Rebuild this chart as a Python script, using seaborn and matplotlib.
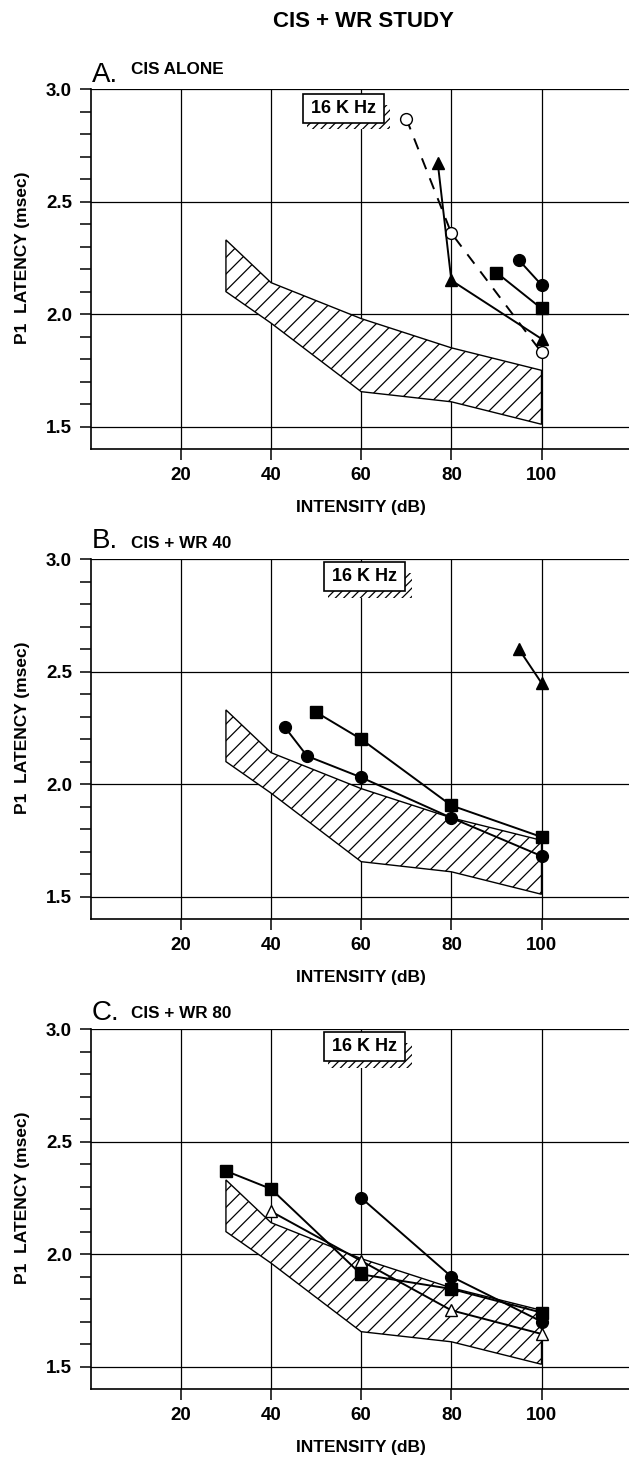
import numpy as np
import pandas as pd
import matplotlib
matplotlib.use("Agg")
import matplotlib.pyplot as plt
import seaborn as sns
from matplotlib.patches import Rectangle, Polygon

sns.set_theme(style="ticks")
plt.rcParams['font.family'] = ['Liberation Sans', 'DejaVu Sans']
plt.rcParams['font.weight'] = 'bold'
plt.rcParams['text.color'] = 'black'
plt.rcParams['hatch.linewidth'] = 0.9
plt.rcParams['hatch.color'] = 'black'

# ---------------- data ----------------
# normal-range band (shared by all panels)
band_upper_x = [30, 40, 60, 80, 100]
band_upper_y = [2.33, 2.14, 1.98, 1.85, 1.75]
band_lower_x = [30, 40, 60, 80, 100]
band_lower_y = [2.10, 1.96, 1.655, 1.61, 1.51]

# Panel A: CIS alone
a_open_circle_x = [70, 80, 100]
a_open_circle_y = [2.87, 2.36, 1.83]
a_triangle_x = [77, 80, 100]
a_triangle_y = [2.67, 2.15, 1.89]
a_square_x = [90, 100]
a_square_y = [2.185, 2.025]
a_circle_x = [95, 100]
a_circle_y = [2.24, 2.13]

# Panel B: CIS + WR 40
b_triangle_x = [95, 100]
b_triangle_y = [2.60, 2.45]
b_square_x = [50, 60, 80, 100]
b_square_y = [2.32, 2.20, 1.905, 1.765]
b_circle_x = [43, 48, 60, 80, 100]
b_circle_y = [2.255, 2.125, 2.03, 1.85, 1.68]

# Panel C: CIS + WR 80
c_square_x = [30, 40, 60, 80, 100]
c_square_y = [2.37, 2.29, 1.91, 1.845, 1.74]
c_open_triangle_x = [40, 60, 80, 100]
c_open_triangle_y = [2.19, 1.97, 1.75, 1.645]
c_circle_x = [60, 80, 100]
c_circle_y = [2.25, 1.90, 1.70]

x_ticks = [20, 40, 60, 80, 100]
x_tick_labels = ["20", "40", "60", "80", "100"]
y_ticks = [1.5, 2.0, 2.5, 3.0]
y_tick_labels = ["1.5", "2.0", "2.5", "3.0"]
y_minor_ticks = [1.6, 1.7, 1.8, 1.9, 2.1, 2.2, 2.3, 2.4, 2.6, 2.7, 2.8, 2.9]

suptitle = "CIS + WR STUDY"
panel_letters = ["A.", "B.", "C."]
panel_titles = ["CIS ALONE", "CIS + WR 40", "CIS + WR 80"]
box_text = "16 K Hz"
x_label = "INTENSITY (dB)"
y_label = "P1  LATENCY (msec)"

# ---------------- styles ----------------
STY = {
    'circle': dict(marker='o', markersize=8.5, markerfacecolor='black'),
    'square': dict(marker='s', markersize=8, markerfacecolor='black'),
    'triangle': dict(marker='^', markersize=9, markerfacecolor='black'),
    'open_circle': dict(marker='o', markersize=8.5, markerfacecolor='white'),
    'open_triangle': dict(marker='^', markersize=9, markerfacecolor='white'),
}

panels = [
    [('open_circle', a_open_circle_x, a_open_circle_y, (0, (6, 5))),
     ('triangle', a_triangle_x, a_triangle_y, '-'),
     ('square', a_square_x, a_square_y, '-'),
     ('circle', a_circle_x, a_circle_y, '-')],
    [('triangle', b_triangle_x, b_triangle_y, '-'),
     ('square', b_square_x, b_square_y, '-'),
     ('circle', b_circle_x, b_circle_y, '-')],
    [('square', c_square_x, c_square_y, '-'),
     ('open_triangle', c_open_triangle_x, c_open_triangle_y, '-'),
     ('circle', c_circle_x, c_circle_y, '-')],
]

W, H = 629, 1457
fig = plt.figure(figsize=(W / 100, H / 100), dpi=100)

ax_left_px = 90.7
ax_h_px = 359.7
ax_tops_px = [89.3, 559.3, 1029.3]
xmax = (W - ax_left_px) / 4.508

box_x0 = [47.0, 51.7, 51.7]
box_ytop = [2.98, 2.987, 2.987]
box_w = 18.0
box_h = 0.13

label_baselines = [(81.7, 74.0), (548.5, 547.5), (1019.5, 1018.0)]

for i, series in enumerate(panels):
    top = ax_tops_px[i]
    ax = fig.add_axes([ax_left_px / W, 1 - (top + ax_h_px) / H,
                       1 - ax_left_px / W, ax_h_px / H])
    ax.set_xlim(0, xmax)
    ax.set_ylim(1.4, 3.0)

    # normal range band
    poly_xy = list(zip(band_upper_x, band_upper_y)) + \
        list(zip(band_lower_x[::-1], band_lower_y[::-1]))
    ax.add_patch(Polygon(poly_xy, closed=True, facecolor='white',
                         edgecolor='black', hatch='//', linewidth=1.0, zorder=2))

    for kind, xs, ys, ls in series:
        sns.lineplot(x=xs, y=ys, ax=ax, color='black', sort=False,
                     estimator=None, linewidth=1.4, linestyle=ls,
                     markeredgecolor='black', markeredgewidth=1.0,
                     zorder=4, **STY[kind])

    # 16 K Hz box with hatched shadow
    x0 = box_x0[i]
    y1 = box_ytop[i]
    y0 = y1 - box_h
    dx, dy = 1.5, 0.028
    ax.add_patch(Rectangle((x0 + box_w, y0 - dy), dx, box_h - 0.02,
                           facecolor='white', edgecolor='black', hatch='////',
                           linewidth=0, zorder=5))
    ax.add_patch(Rectangle((x0 + 1.0, y0 - dy), box_w + dx - 1.0, dy,
                           facecolor='white', edgecolor='black', hatch='////',
                           linewidth=0, zorder=5))
    ax.add_patch(Rectangle((x0, y0), box_w, box_h, facecolor='white',
                           edgecolor='black', linewidth=1.2, zorder=6))
    ax.text(x0 + box_w / 2, y0 + box_h / 2, box_text, ha='center', va='center',
            fontsize=13, fontweight='bold', color='black', zorder=7)

    # axes styling
    ax.set_xticks(x_ticks)
    ax.set_xticklabels(x_tick_labels)
    ax.set_yticks(y_ticks)
    ax.set_yticklabels(y_tick_labels)
    ax.set_yticks(y_minor_ticks, minor=True)
    ax.grid(True, which='major', color='black', linewidth=0.9)
    ax.set_axisbelow(True)
    for s in ['left', 'bottom']:
        ax.spines[s].set_color('black')
        ax.spines[s].set_linewidth(1.2)
    ax.spines['right'].set_visible(False)
    ax.spines['top'].set_visible(False)
    ax.tick_params(axis='both', which='both', direction='out', length=8,
                   width=1.1, color='black', labelsize=13.5, labelcolor='black')
    ax.tick_params(axis='x', pad=5.0, bottom=True, top=False)
    ax.tick_params(axis='y', pad=5.5, left=True, right=False)
    ax.tick_params(axis='x', which='minor', bottom=False)

    ax.set_xlabel(x_label, fontsize=12.5, fontweight='bold', color='black')
    ax.xaxis.set_label_coords((361 - ax_left_px) / (W - ax_left_px),
                              -58.5 / ax_h_px)
    ax.xaxis.label.set_va('center')
    ax.set_ylabel(y_label, fontsize=12.5, fontweight='bold', color='black')
    ax.yaxis.set_label_coords((23 - ax_left_px) / (W - ax_left_px), 0.531)
    ax.yaxis.label.set_va('center')

    # panel labels
    bl_letter, bl_title = label_baselines[i]
    fig.text(92 / W, 1 - bl_letter / H, panel_letters[i], fontsize=20,
             fontweight='normal', ha='left', va='baseline', color='black')
    fig.text(131 / W, 1 - bl_title / H, panel_titles[i], fontsize=12.3,
             fontweight='bold', ha='left', va='baseline', color='black')

fig.text(363 / W, 1 - 21.7 / H, suptitle, fontsize=16, fontweight='bold',
         ha='center', va='center', color='black')

fig.savefig("out.png", dpi=100, facecolor='white')
